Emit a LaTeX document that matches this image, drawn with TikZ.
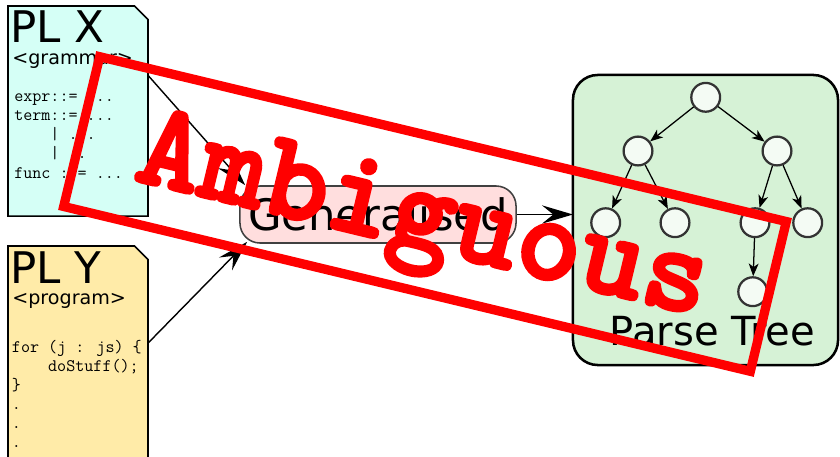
\documentclass[tikz,border=0pt]{standalone}
\usepackage{fontspec}
\setmainfont{DejaVu Sans}
\newfontfamily\stampfont{lmmonolt10-bold}[Extension=.otf, FakeBold=2.5]
\usetikzlibrary{arrows.meta}

\definecolor{plxfill}{RGB}{213,255,246}
\definecolor{plyfill}{RGB}{255,235,168}
\definecolor{genfill}{RGB}{255,222,222}
\definecolor{gendraw}{RGB}{64,64,64}
\definecolor{treefill}{RGB}{214,242,214}
\definecolor{leaffill}{RGB}{244,251,244}
\definecolor{leafdraw}{RGB}{51,51,51}
\definecolor{stampred}{RGB}{255,0,0}

\tikzset{
  doc/.style={minimum width=3.5cm, inner sep=0pt, outer sep=0pt},
  docline/.style={draw, line width=1.1pt},
  docname/.style={anchor=base west, inner sep=0pt, font=\fontsize{31}{34}\selectfont},
  dockind/.style={anchor=base west, inner sep=0pt, font=\fontsize{13.6}{16}\selectfont},
  codetext/.style={anchor=base west, inner sep=0pt, font=\ttfamily\fontsize{12.5}{14}\selectfont},
  genbox/.style={draw=gendraw, fill=genfill, line width=1.1pt, rounded corners=0.5cm,
    minimum width=6.9cm, minimum height=1.425cm, inner sep=0pt,
    font=\fontsize{30.8}{34}\selectfont},
  treebox/.style={draw, fill=treefill, line width=1.8pt, rounded corners=0.62cm,
    minimum width=6.625cm, minimum height=7.25cm, inner sep=0pt, outer sep=0pt},
  leaf/.style={circle, draw=leafdraw, fill=leaffill, line width=1.6pt,
    minimum size=0.72cm, inner sep=0pt},
  treearrow/.style={-{Stealth[length=9pt, width=7pt, inset=2.5pt]}, line width=0.9pt},
  flow/.style={-{Stealth[length=22pt, width=13pt, inset=8pt]}, line width=1pt},
  stampframe/.style={draw=stampred, line width=6.6pt, minimum width=17.65cm,
    minimum height=3.85cm, rotate=-13.5, inner sep=0pt},
  stampword/.style={text=stampred, anchor=base, rotate=-13.5, inner sep=0pt,
    font=\stampfont\fontsize{88}{92}\selectfont}
}

\begin{document}
\begin{tikzpicture}[x=0.025cm, y=-0.025cm]
  \clip (0,0) rectangle (840,456);
  % the two sources
  \node[doc, minimum height=5.25cm] (plx) at (78,111) {};
  \draw[docline, fill=plxfill] (plx.south west) -- (plx.north west)
    -- ([xshift=-0.34cm]plx.north east) -- ([yshift=-0.34cm]plx.north east)
    -- (plx.south east) -- cycle;
  \node[docname] (plx-name) at (10,42) {PL X};
  \node[dockind] (plx-kind) at (12,64) {<grammar>};
  \foreach \src [count=\i] in {{expr::= .{}..}, {term::= .{}..}, {\hphantom{xxxx}| .{}..},
      {\hphantom{xxxx}| ..}, {func ::= .{}..}}
    \node[codetext] (plx-l\i) at (14,{101+19.3*(\i-1)}) {\src};

  \node[doc, minimum height=5.6cm] (ply) at (78,358) {};
  \draw[docline, fill=plyfill] (ply.south west) -- (ply.north west)
    -- ([xshift=-0.34cm]ply.north east) -- ([yshift=-0.34cm]ply.north east)
    -- (ply.south east) -- cycle;
  \node[docname] (ply-name) at (10,283) {PL Y};
  \node[dockind] (ply-kind) at (12,304) {<program>};
  \foreach \src [count=\i] in {{for (j : js) \{}, {\hphantom{xxxx}doStuff();}, {\}},
      {.}, {.}, {.}}
    \node[codetext] (ply-l\i) at (11.7,{352+19*(\i-1)}) {\src};

  % parser
  \node[genbox] (gen) at (378,214.5) {Generalised};

  % result
  \node[treebox] (tree) at (705.5,220) {};
  \node[leaf] (t0) at (705.7,97.3) {};
  \node[leaf] (t1) at (638,151) {};
  \node[leaf] (t2) at (777,151) {};
  \node[leaf] (t3) at (605.7,222.7) {};
  \node[leaf] (t4) at (675,222.7) {};
  \node[leaf] (t5) at (755,222.7) {};
  \node[leaf] (t6) at (807.7,222.7) {};
  \node[leaf] (t7) at (752.7,291.7) {};
  \node[font=\fontsize{28.5}{32}\selectfont, inner sep=0pt] (tree-label) at (712.5,331.5) {Parse Tree};
  \foreach \a/\b in {t0/t1, t0/t2, t1/t3, t1/t4, t2/t5, t2/t6, t5/t7}
    \draw[treearrow] (\a) -- (\b);

  \draw[flow] (plx.27) -- ([xshift=0.15cm]gen.north west);
  \draw[flow] (ply.12) -- ([xshift=0.2cm, yshift=0.05cm]gen.south west);
  \draw[flow] (gen.east) -- (gen.east -| tree.west);

  % stamp on top
  \node[stampframe] (stamp) at (425,214) {};
  \node[stampword] (stamp-word) at (416,248) {Ambiguous};
\end{tikzpicture}
\end{document}
